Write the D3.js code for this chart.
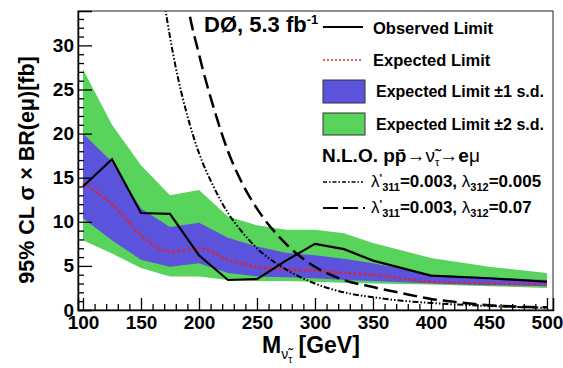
<!DOCTYPE html>
<html>
<head>
<meta charset="utf-8">
<script src="https://cdn.jsdelivr.net/npm/d3@7"></script>
<style>
body{margin:0;background:#fff;}
text{font-family:"Liberation Sans",Arial,sans-serif;font-weight:bold;fill:#000;}
</style>
</head>
<body>
<svg id="chart" width="563" height="368"></svg>
<script>
// mass points (GeV)
const masses = [100,125,150,175,200,225,250,275,300,325,350,400,450,500];
const observed = [14.0,17.1,11.0,10.9,6.2,3.4,3.5,5.6,7.5,6.9,5.6,3.9,3.6,3.2];
const expected = [14.4,12.0,8.5,6.6,7.0,5.7,4.9,4.6,4.45,4.2,4.0,3.2,3.0,2.9];
const up1 = [20.0,16.8,11.5,9.4,9.9,8.2,7.2,6.5,6.2,5.8,5.3,4.0,3.7,3.4];
const lo1 = [10.4,7.9,5.7,4.9,5.3,4.2,3.8,3.7,3.6,3.4,3.3,3.0,2.8,2.7];
const up2 = [27.3,21.0,16.4,13.0,13.6,10.6,9.6,9.1,9.1,8.7,7.6,5.9,4.9,4.2];
const lo2 = [7.9,6.4,4.75,3.8,3.8,3.4,3.3,3.3,3.2,3.1,3.0,2.9,2.7,2.5];

// NLO theory curves
const thMassA = [160,170,180,190,200,212.5,225,237.5,250,275,300,325,350,375,400,450,500];
const thA = [45,35,27.5,22,17.8,14,11,8.8,7.0,4.6,3.0,2.0,1.45,1.05,0.8,0.45,0.25];   // lambda312 = 0.005
const thMassB = [185,190,200,212.5,225,237.5,250,275,300,325,350,375,400,425,450,500];
const thB = [40,35,29,23,18,14.3,11.5,7.5,4.9,3.4,2.6,1.9,1.25,0.85,0.55,0.3];      // lambda312 = 0.07

const xMajor = [100,150,200,250,300,350,400,450,500];
const yMajor = [0,5,10,15,20,25,30];

const green = "#58d35c", blue = "#5b53dc", red = "#e3202c";

const svg = d3.select("#chart");
const pL = 78, pR = 553, pT = 11, pB = 310;
const x = d3.scaleLinear().domain([95.7, 505.2]).range([pL, pR]);
const y = d3.scaleLinear().domain([0, 33.9]).range([pB, pT]);

svg.append("defs").append("clipPath").attr("id","clip")
  .append("rect").attr("x",pL).attr("y",pT).attr("width",pR-pL).attr("height",pB-pT);

const g = svg.append("g").attr("clip-path","url(#clip)");

const idx = d3.range(masses.length);
const area = (lo, hi) => d3.area().x(i => x(masses[i])).y0(i => y(lo[i])).y1(i => y(hi[i]))(idx);

g.append("path").attr("d", area(lo2, up2)).attr("fill", green);
g.append("path").attr("d", area(lo1, up1)).attr("fill", blue);

const line = (xs, ys, curve) => d3.line().x(i => x(xs[i])).y(i => y(ys[i])).curve(curve)(d3.range(xs.length));

g.append("path").attr("d", line(masses, expected, d3.curveMonotoneX))
  .attr("fill","none").attr("stroke",red).attr("stroke-width",2.5).attr("stroke-dasharray","2.5,2.5");
g.append("path").attr("d", line(thMassA, thA, d3.curveMonotoneX))
  .attr("fill","none").attr("stroke","#000").attr("stroke-width",2).attr("stroke-dasharray","6,2,1.5,2,1.5,2");
g.append("path").attr("d", line(thMassB, thB, d3.curveMonotoneX))
  .attr("fill","none").attr("stroke","#000").attr("stroke-width",2.5).attr("stroke-dasharray","14,6");
g.append("path").attr("d", line(masses, observed, d3.curveLinear))
  .attr("fill","none").attr("stroke","#000").attr("stroke-width",2.2);

// frame
svg.append("rect").attr("x",pL).attr("y",pT).attr("width",pR-pL).attr("height",pB-pT)
  .attr("fill","none").attr("stroke","#222").attr("stroke-width",1);

// axes
const xMinor = d3.range(100, 501, 10).filter(v => v % 50 != 0);
const yMinor = d3.range(0, 34, 1).filter(v => v % 5 != 0);

svg.append("g").attr("transform",`translate(0,${pB})`)
  .call(d3.axisBottom(x).tickValues(xMinor).tickSize(-6).tickFormat(""))
  .call(a => a.select(".domain").remove());
const xa = svg.append("g").attr("transform",`translate(0,${pB})`)
  .call(d3.axisBottom(x).tickValues(xMajor).tickSize(-12).tickPadding(4).tickFormat(d3.format("d")));
xa.select(".domain").attr("stroke-width",1.5);
xa.selectAll("text").style("font-size","19px").attr("dy","0.8em");

svg.append("g").attr("transform",`translate(${pL},0)`)
  .call(d3.axisLeft(y).tickValues(yMinor).tickSize(-6).tickFormat(""))
  .call(a => a.select(".domain").remove());
const ya = svg.append("g").attr("transform",`translate(${pL},0)`)
  .call(d3.axisLeft(y).tickValues(yMajor).tickSize(-14).tickPadding(4).tickFormat(d3.format("d")));
ya.select(".domain").attr("stroke-width",1.5);
ya.selectAll("text").style("font-size","19px");
svg.selectAll(".tick line").attr("stroke-width",1.3);

// axis titles
const xt = svg.append("text").attr("x",262).attr("y",353).style("font-size","23px");
xt.append("tspan").text("M");
xt.append("tspan").attr("dy",6).style("font-size","14px").style("font-weight","normal").text("\u03BD\u0303");
xt.append("tspan").attr("dy",4).style("font-size","10px").style("font-weight","normal").text("\u03C4");
xt.append("tspan").attr("dy",-10).text(" [GeV]");

svg.append("text").attr("transform","translate(34,170) rotate(-90)").attr("text-anchor","middle")
  .style("font-size","21.5px").text("95% CL \u03C3 \u00D7 BR(e\u03BC)[fb]");

// header
const hd = svg.append("text").attr("x",204).attr("y",32).style("font-size","22px");
hd.append("tspan").text("D\u00D8, 5.3 fb");
hd.append("tspan").attr("dy",-8).style("font-size","13px").text("-1");

// legend
const lx0 = 323, lx1 = 363, tx = 373, fs = "16px";
svg.append("line").attr("x1",lx0).attr("x2",lx1).attr("y1",27).attr("y2",27).attr("stroke","#000").attr("stroke-width",2);
svg.append("text").attr("x",tx).attr("y",34).style("font-size","16.5px").text("Observed Limit");
svg.append("line").attr("x1",lx0).attr("x2",lx1).attr("y1",60).attr("y2",60).attr("stroke",red).attr("stroke-width",1.5).attr("stroke-dasharray","2,2");
svg.append("text").attr("x",tx).attr("y",66).style("font-size","16.5px").text("Expected Limit");
svg.append("rect").attr("x",lx0).attr("y",80).attr("width",42).attr("height",23).attr("fill",blue).attr("stroke","#333").attr("stroke-width",1);
svg.append("text").attr("x",tx+3).attr("y",97).style("font-size",fs).text("Expected Limit \u00B11 s.d.");
svg.append("rect").attr("x",lx0).attr("y",113).attr("width",42).attr("height",22).attr("fill",green).attr("stroke","#333").attr("stroke-width",1);
svg.append("text").attr("x",tx+3).attr("y",130).style("font-size",fs).text("Expected Limit \u00B12 s.d.");

const nlo = svg.append("text").attr("x",322).attr("y",162).style("font-size","19px");
nlo.append("tspan").text("N.L.O. pp\u0304\u2192");
nlo.append("tspan").style("font-weight","normal").text("\u03BD\u0303");
nlo.append("tspan").attr("dy",4).style("font-size","11px").style("font-weight","normal").text("\u03C4");
nlo.append("tspan").attr("dy",-4).text("\u2192e");
nlo.append("tspan").style("font-weight","normal").text("\u03BC");

svg.append("line").attr("x1",lx0).attr("x2",lx1).attr("y1",182).attr("y2",182).attr("stroke","#000").attr("stroke-width",1.5).attr("stroke-dasharray","4,2,1.5,2");
svg.append("line").attr("x1",lx0).attr("x2",lx1+2).attr("y1",208).attr("y2",208).attr("stroke","#000").attr("stroke-width",2).attr("stroke-dasharray","15,5");

function lam(yb, v2) {
  const t = svg.append("text").attr("x",371).attr("y",yb).style("font-size","17px");
  t.append("tspan").style("font-weight","normal").text("\u03BB");
  t.append("tspan").attr("dy",-5).style("font-size","11px").text("'");
  t.append("tspan").attr("dy",9).style("font-size","11px").text("311");
  t.append("tspan").attr("dy",-4).text("=0.003, ");
  t.append("tspan").style("font-weight","normal").text("\u03BB");
  t.append("tspan").attr("dy",4).style("font-size","11px").text("312");
  t.append("tspan").attr("dy",-4).text("=" + v2);
}
lam(187, "0.005");
lam(213, "0.07");
</script>
</body>
</html>
